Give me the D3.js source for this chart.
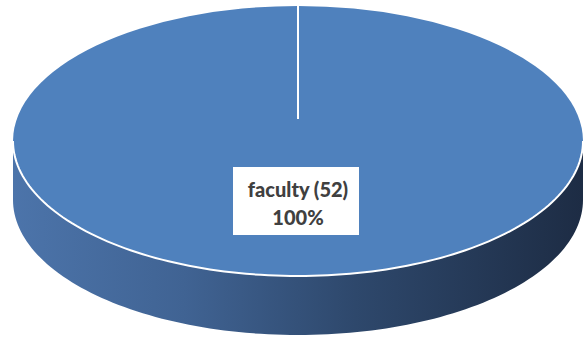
<!DOCTYPE html>
<html><head><meta charset="utf-8">
<script src="https://cdn.jsdelivr.net/npm/d3@7"></script>
<style>html,body{margin:0;padding:0;background:#fff;}svg{display:block;}</style>
</head><body>
<script>
const categories = ["faculty"];
const values = [52];

const W = 587, H = 341;
const cx = 298, cy = 141, rx = 285, ry = 135, depth = 59;
const svg = d3.select("body").append("svg").attr("width", W).attr("height", H);

const defs = svg.append("defs");
const grad = defs.append("linearGradient").attr("id", "side").attr("gradientUnits", "userSpaceOnUse")
  .attr("x1", cx - rx).attr("x2", cx + rx).attr("y1", 0).attr("y2", 0);
[[0, "#4c74aa"], [0.3, "#406393"], [0.6, "#2e486c"], [1, "#1d2c44"]]
  .forEach(([o, c]) => grad.append("stop").attr("offset", o).attr("stop-color", c));

const pie = d3.pie().sort(null);
const slices = pie(values);
const total = d3.sum(values);

// side
const n = 120;
const ts = d3.range(n + 1).map(i => Math.PI * i / n);
const topEdge = ts.map(t => [cx + rx * Math.cos(t), cy + ry * Math.sin(t)]);
const botEdge = ts.slice().reverse().map(t => [cx + rx * Math.cos(t), cy + depth + ry * Math.sin(t)]);
svg.append("path")
  .attr("d", d3.line()(topEdge.concat(botEdge)) + "Z")
  .attr("fill", "url(#side)");

// top
const arc = d3.arc().innerRadius(0).outerRadius(rx);
const g = svg.append("g").attr("transform", `translate(${cx},${cy}) scale(1,${ry / rx})`);
g.selectAll("path.slice").data(slices).join("path").attr("class", "slice")
  .attr("d", arc).attr("fill", "#4f81bd");

// rim highlight
svg.append("path").attr("d", d3.line()(topEdge)).attr("fill", "none")
  .attr("stroke", "#fff").attr("stroke-width", 2);

// slice border radial line
slices.forEach(s => {
  const a = s.startAngle;
  svg.append("line")
    .attr("x1", cx).attr("y1", 119)
    .attr("x2", cx + rx * Math.sin(a)).attr("y2", cy - ry * Math.cos(a))
    .attr("stroke", "#fff").attr("stroke-width", 2);
});

// label
const lg = svg.append("g");
lg.append("rect").attr("x", 233).attr("y", 167).attr("width", 126).attr("height", 68).attr("fill", "#fff");
const txt = lg.append("text").attr("text-anchor", "middle")
  .attr("font-family", "Lato, sans-serif").attr("font-weight", 900)
  .attr("font-size", 20).attr("fill", "#404040");
slices.forEach((s, i) => {
  txt.append("tspan").attr("x", 298).attr("y", 197).text(`${categories[i]} (${values[i]})`);
  txt.append("tspan").attr("x", 298).attr("y", 225).text(d3.format(".0%")(values[i] / total));
});
</script>
</body></html>
